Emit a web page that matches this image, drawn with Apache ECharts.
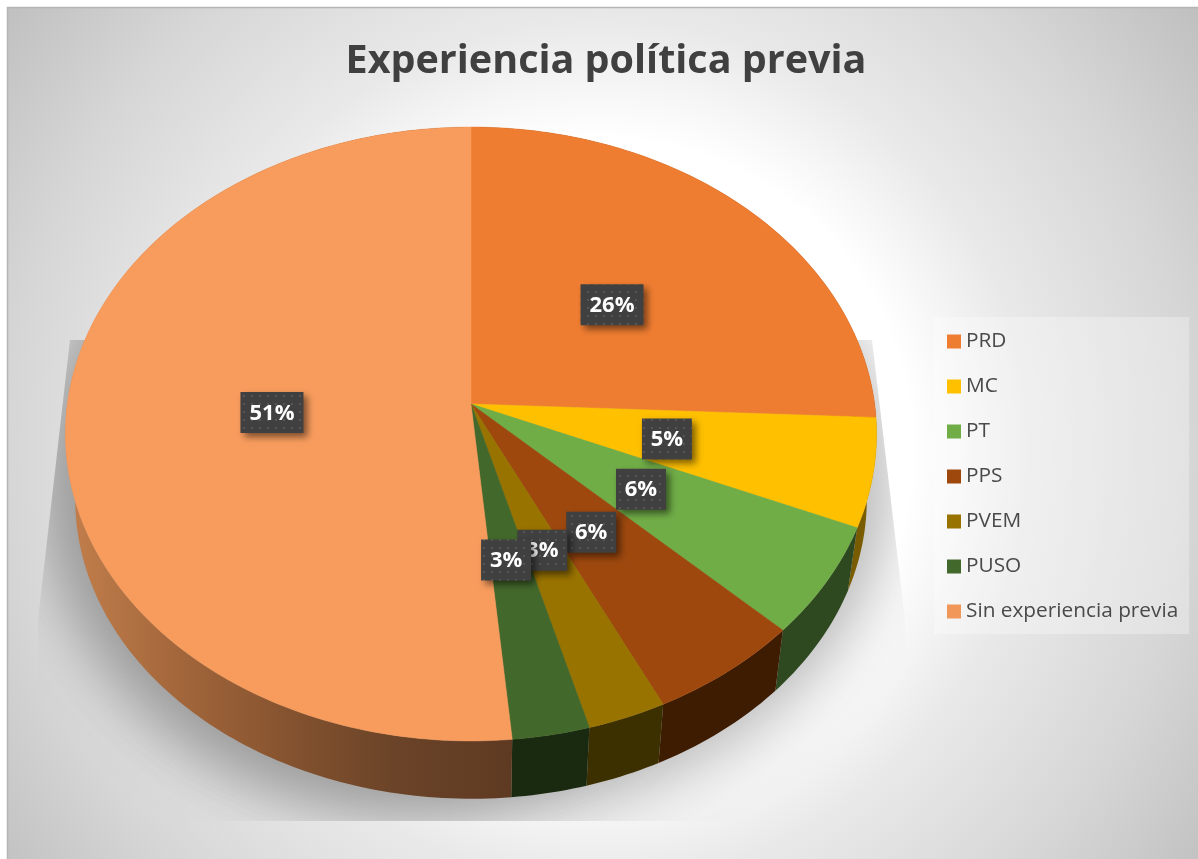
<!DOCTYPE html>
<html><head><meta charset="utf-8">
<style>html,body{margin:0;padding:0;background:#fff}#c{width:1198px;height:859px}</style>
<script src="https://cdn.jsdelivr.net/npm/echarts@6/dist/echarts.min.js"></script>
</head><body><div id="c"></div>
<script>
const categories = ['PRD','MC','PT','PPS','PVEM','PUSO','Sin experiencia previa'];
const shares = [25.7,5.7,5.8,5.65,2.87,2.81,51.47];
const percentLabels = ['26%','5%','6%','6%','3%','3%','51%'];
const topColors = ['#ef7d31','#ffc000','#70ad47','#9e480e','#997300','#43682b','#f89c5d'];
const wallColors = ['#7a4018','#7a5c00','#2e4820','#3e1c02','#3d3000','#1a2a10',null];
const legendColors = ['#ef7d31','#ffc000','#70ad47','#9e480e','#997300','#43682b','#f1975a'];

// perspective model of the tilted disc
const CX=471, CY=404, BX=403.6, BY=304, K=0.0977, VY=3150, S=0.976;
function proj(x,y){const w=1+K*y;return [CX+BX*x/w, CY-BY*y/w];}
function rim(t,r){const a=t*Math.PI/180;return proj((r||1)*Math.sin(a),(r||1)*Math.cos(a));}
function low(p){return [CX+S*(p[0]-CX), VY+S*(p[1]-VY)];}
const total=shares.reduce((a,b)=>a+b,0);
const starts=[];let acc=0;shares.forEach(v=>{starts.push(acc);acc+=v;});
const ang=v=>v/total*360;
function arc(s,e){const pts=[];const n=Math.max(2,Math.ceil((e-s)));for(let i=0;i<=n;i++)pts.push(rim(s+(e-s)*i/n));return pts;}

const pat=document.createElement('canvas');pat.width=8;pat.height=8;
const g=pat.getContext('2d');g.fillStyle='#404040';g.fillRect(0,0,8,8);g.fillStyle='#565656';g.fillRect(3,3,2,2);

const wallFill=i=>wallColors[i]||{type:'linear',x:80,y:0,x2:510,y2:0,global:true,colorStops:[
 {offset:0,color:'#bf7c4a'},{offset:.21,color:'#a5683c'},{offset:.51,color:'#82512e'},{offset:.74,color:'#6a4328'},{offset:1,color:'#5f3a22'}]};

function sliceItem(i){return function(params,api){
  const s=ang(starts[i]), e=s+ang(api.value(0));
  const top=arc(s,e), wall=top.concat(top.map(low).reverse());
  return {type:'group',children:[
    {type:'polygon',z2:1,shape:{points:wall},style:{fill:wallFill(i)}},
    {type:'polygon',z2:10,shape:{points:top.concat([[CX,CY]])},style:{fill:topColors[i],stroke:topColors[i],lineWidth:.5}}
  ]};
};}
const nudgeX=[0,-3,-3,-3,-3,-3,3], nudgeY=[2.5,1,-1,0,-3,-1,1.5];
function labelItem(params,api){
  const i=api.value(0);
  const mid=ang(starts[i])+ang(shares[i])/2, p=rim(mid,.5);
  const t=percentLabels[i], w=t.length*13+24, h=41;
  const x=p[0]+nudgeX[i], y=p[1]+nudgeY[i];
  return {type:'group',children:[
    {type:'rect',z2:40+i*2,shape:{x:x-w/2,y:y-h/2,width:w,height:h},
     style:{fill:{image:pat,repeat:'repeat'},shadowBlur:7,shadowOffsetX:4,shadowOffsetY:4,shadowColor:'rgba(0,0,0,.5)'}},
    {type:'text',z2:41+i*2,x:x,y:y+1,style:{text:t,fill:'#fff',font:'bold 22px "Open Sans"',align:'center',verticalAlign:'middle'}}
  ]};
}
function shadowItem(){
  const clip=[[70,340],[38,620],[38,821],[905,821],[905,620],[872,340]];
  return {type:'group',clipPath:{type:'polygon',shape:{points:clip}},children:[
    {type:'ellipse',z2:1,shape:{cx:468-3000,cy:480,rx:425,ry:340},
     style:{fill:'#000',shadowBlur:60,shadowOffsetX:3000,shadowColor:'rgba(178,178,178,.9)'}},
    {type:'ellipse',z2:2,shape:{cx:390-3000,cy:480,rx:345,ry:335},
     style:{fill:'#000',shadowBlur:60,shadowOffsetX:3000,shadowColor:'rgba(110,110,110,.4)'}}
  ]};
}
const series=[{type:'custom',coordinateSystem:'none',name:'sombra',z:1,silent:true,data:[[1]],renderItem:shadowItem}];
categories.forEach((n,i)=>series.push({type:'custom',coordinateSystem:'none',name:n,z:2,silent:true,itemStyle:{color:legendColors[i]},data:[[shares[i]]],renderItem:sliceItem(i)}));
series.push({type:'custom',coordinateSystem:'none',name:'etiquetas',z:5,silent:true,data:categories.map((_,i)=>[i]),renderItem:labelItem});

const chart=echarts.init(document.getElementById('c'),null,{renderer:'canvas'});
chart.setOption({
  animation:false,
  title:{text:'Experiencia política previa',left:601,top:37,textAlign:'center',
    textStyle:{fontFamily:'"Open Sans"',fontWeight:'bold',fontSize:39.5,color:'#404040'}},
  legend:{data:categories,orient:'vertical',left:934,top:317,icon:'rect',itemWidth:14,itemHeight:14,itemGap:24,
    padding:[14,11,12,13],selectedMode:false,backgroundColor:'rgba(255,255,255,.3)',
    textStyle:{fontFamily:'"Open Sans"',fontSize:20.8,color:'#4a4a4a'}},
  graphic:[{type:'rect',z:-10,silent:true,shape:{x:7.5,y:7.5,width:1200,height:860},
    style:{stroke:'#b5b5b5',lineWidth:1.5,fill:{type:'radial',x:600,y:450,r:740,global:true,colorStops:[
      {offset:0,color:'#ffffff'},{offset:.42,color:'#ffffff'},{offset:.48,color:'#f7f7f7'},{offset:.58,color:'#e9e9e9'},{offset:.8,color:'#d6d6d6'},{offset:1,color:'#c0c0c0'}]}}}],
  series
});
</script></body></html>
